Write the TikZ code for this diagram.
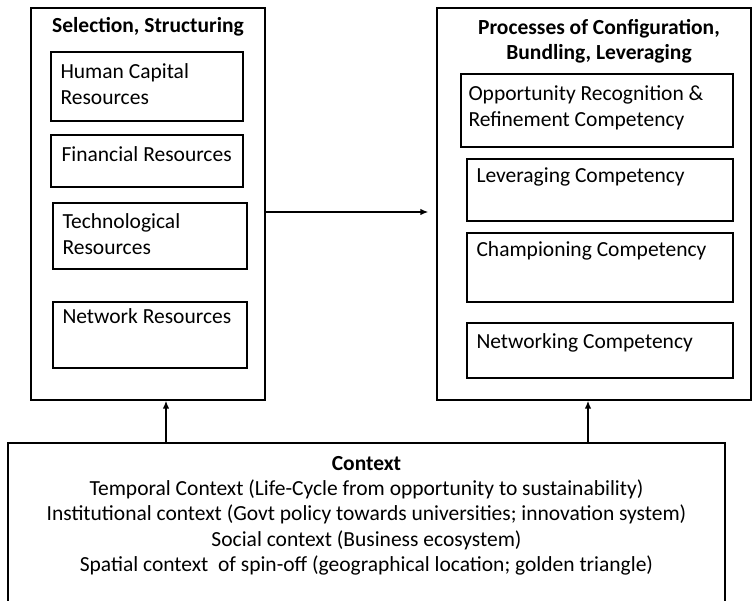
\documentclass[tikz,border=0pt]{standalone}
\usepackage{fontspec}
\setmainfont{Carlito}
\usetikzlibrary{calc,arrows.meta}

\begin{document}
\begin{tikzpicture}[x=1pt,y=1pt,
  box/.style={draw,line width=1.4pt,rectangle,inner sep=0pt},
  txt/.style={anchor=base west,inner sep=0pt,align=left,font=\fontsize{21.5}{25.5}\selectfont},
  ttl/.style={anchor=base,inner sep=0pt,align=center,font=\fontsize{21.5}{25.3}\selectfont\bfseries},
  conn/.style={-{Latex[length=8pt,width=6.5pt]},line width=1.4pt}]
  \clip (0,0) rectangle (753,-601);

  % selection and structuring
  \node[box,minimum width=234,minimum height=392] (sel) at (148,-204) {};
  \node[ttl] (sel-t) at ($(sel.north)+(0,-25)$) {Selection, Structuring};

  \node[box,minimum width=192,minimum height=69] (hc) at (147,-86.5) {};
  \node[box,minimum width=192,minimum height=52] (fin) at (147,-161) {};
  \node[box,minimum width=194,minimum height=66] (tech) at (150,-236) {};
  \node[box,minimum width=194,minimum height=66] (net) at (150,-335) {};

  % base anchor sits on the last line
  \node[txt] (hc-t) at ($(hc.north west)+(10,-53)$) {Human Capital\\Resources};
  \node[txt] (fin-t) at ($(fin.north west)+(11,-27)$) {Financial Resources};
  \node[txt] (tech-t) at ($(tech.north west)+(10,-52)$) {Technological\\Resources};
  \node[txt] (net-t) at ($(net.north west)+(10,-22)$) {Network Resources};

  % configuration, bundling, leveraging
  \node[box,minimum width=314,minimum height=392] (proc) at (594,-204) {};
  \node[ttl] (proc-t) at ($(proc.north)+(5,-52.5)$) {Processes of Configuration,\\Bundling, Leveraging};

  \node[box,minimum width=272,minimum height=73] (opp) at (597,-110.5) {};
  \node[box,minimum width=266,minimum height=62] (lev) at (600,-190) {};
  \node[box,minimum width=266,minimum height=69] (champ) at (600,-267.5) {};
  \node[box,minimum width=266,minimum height=55] (netw) at (600,-350.5) {};

  \node[txt] (opp-t) at ($(opp.north west)+(8,-53)$) {Opportunity Recognition \&\\Refinement Competency};
  \node[txt] (lev-t) at ($(lev.north west)+(10,-24)$) {Leveraging Competency};
  \node[txt] (champ-t) at ($(champ.north west)+(10,-24)$) {Championing Competency};
  \node[txt] (netw-t) at ($(netw.north west)+(10,-26)$) {Networking Competency};

  % context
  \node[box,minimum width=717,minimum height=197] (ctx) at (366.5,-541.5) {};
  \node[ttl] (ctx-t) at ($(ctx.north)+(0,-129)$) {\textbf{Context}\\\mdseries Temporal Context (Life-Cycle from opportunity to sustainability)\\\mdseries Institutional context (Govt policy towards universities; innovation system)\\\mdseries Social context (Business ecosystem)\\\mdseries Spatial context\ \ of spin-off (geographical location; golden triangle)};

  % arrows
  \coordinate (sel-in) at ($(sel.south)+(18,0)$);
  \coordinate (proc-in) at ($(proc.south)+(-6,0)$);
  \draw[conn,shorten >=8pt] ([yshift=-8]sel.east) -- ([yshift=-8]proc.west);
  \draw[conn] (ctx.north -| sel-in) -- (sel-in);
  \draw[conn] (ctx.north -| proc-in) -- (proc-in);
\end{tikzpicture}
\end{document}
